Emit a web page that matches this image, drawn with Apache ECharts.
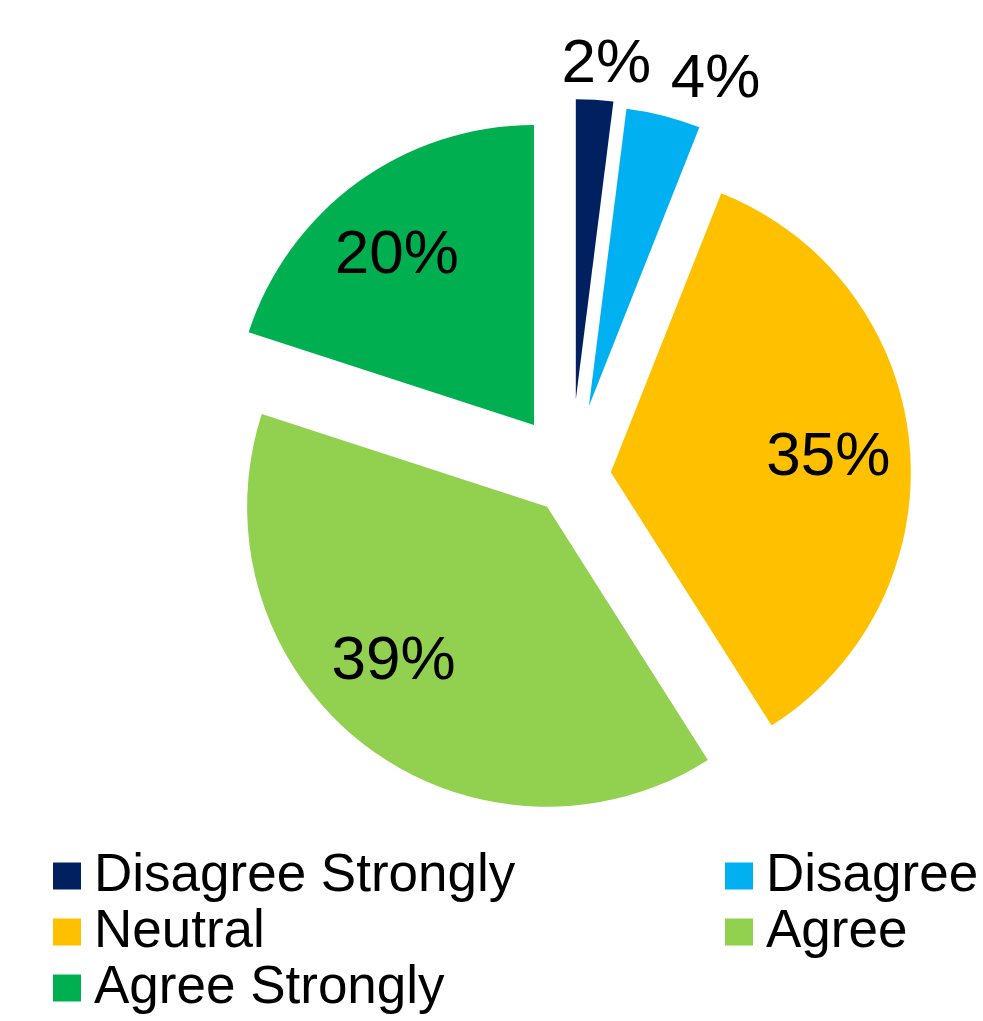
<!DOCTYPE html>
<html>
<head>
<meta charset="utf-8">
<script src="https://cdn.jsdelivr.net/npm/echarts@6/dist/echarts.min.js"></script>
<style>
  html, body { margin: 0; padding: 0; background: #fff; }
  #chart { width: 983px; height: 1021px; }
</style>
</head>
<body>
<div id="chart"></div>
<script>
// Survey responses (percent of respondents)
const categories = ['Disagree Strongly', 'Disagree', 'Neutral', 'Agree', 'Agree Strongly'];
const values = [2, 4, 35, 39, 20];

// Presentation settings per slice
const colors = ['#002060', '#00B0F0', '#FFC000', '#92D050', '#00B050'];
const explode = [77, 72, 40, 39, 63];          // pull-out distance of each slice (px)
const labelRadius = [336, 350, 218, 218, 218]; // label distance from slice tip (px)
const labelTurn = [1.6, 6.8, 1.5, 7, -3];      // small angular nudge of each label (deg)

const FONT = '"Liberation Sans", Arial, Helvetica, sans-serif';
const PIE_CENTER = [571, 476];
const PIE_R = 300;
const total = values.reduce((a, b) => a + b, 0);
const rad = a => a * Math.PI / 180;

// mid angle of slice i, degrees clockwise from 12 o'clock
function bisector(i) {
  let before = 0;
  for (let k = 0; k < i; k++) before += values[k];
  return (before + values[i] / 2) / total * 360;
}

// One pie per slice so every slice can be pulled out by its own amount;
// the other slices of each pie stay invisible.
const series = categories.map((name, i) => {
  const a1 = rad(bisector(i));
  const a2 = rad(bisector(i) + labelTurn[i]);
  const inner = PIE_R / 2 + 3;   // where an 'inside' pie label sits by default
  const shift = {
    dx: labelRadius[i] * Math.sin(a2) - inner * Math.sin(a1),
    dy: -labelRadius[i] * Math.cos(a2) + inner * Math.cos(a1)
  };
  return {
    type: 'pie',
    name: name,
    center: PIE_CENTER,
    radius: [0, PIE_R],
    startAngle: 90,
    clockwise: true,
    selectedMode: 'single',
    selectedOffset: explode[i],
    avoidLabelOverlap: false,
    animation: false,
    emphasis: { disabled: true },
    labelLine: { show: false },
    labelLayout: function (params) {
      return params.dataIndex === i ? shift : {};
    },
    data: categories.map((n, k) => ({
      name: n,
      value: values[k],
      selected: k === i,
      itemStyle: { color: k === i ? colors[k] : 'rgba(0,0,0,0)', borderWidth: 0 },
      label: k === i
        ? { show: true, position: 'inside', formatter: '{c}%',
            fontSize: 62, fontFamily: FONT, color: '#000' }
        : { show: false }
    }))
  };
});

const legendCommon = {
  orient: 'vertical',
  top: 843,
  icon: 'rect',
  itemWidth: 28,
  itemHeight: 27,
  itemGap: 0,
  selectedMode: false,
  textStyle: { fontSize: 53, fontFamily: FONT, color: '#000', lineHeight: 56, padding: [0, 0, 0, 8] }
};
const legendItems = idx => idx.map(i => ({ name: categories[i], itemStyle: { color: colors[i] } }));

const chart = echarts.init(document.getElementById('chart'), null, { renderer: 'canvas' });
chart.setOption({
  backgroundColor: '#ffffff',
  animation: false,
  legend: [
    Object.assign({}, legendCommon, { left: 48, data: legendItems([0, 2, 4]) }),
    Object.assign({}, legendCommon, { left: 720, data: legendItems([1, 3]) })
  ],
  series: series
});
</script>
</body>
</html>
